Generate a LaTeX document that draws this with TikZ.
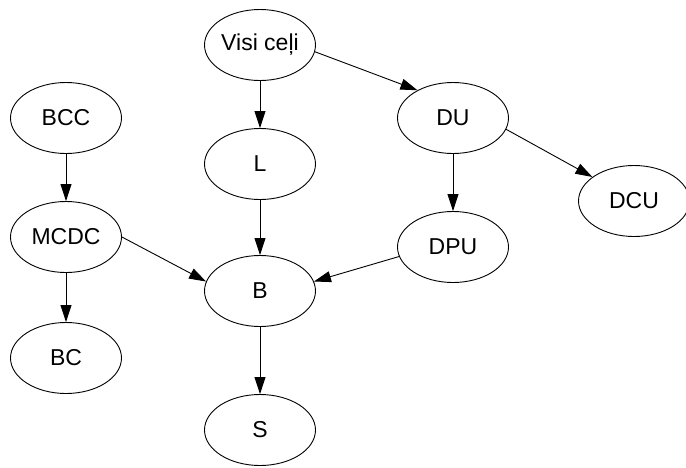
\documentclass[tikz,border=0pt]{standalone}
\usepackage{fontspec}
\setmainfont{Liberation Sans}
\usepackage{tikz}
\usetikzlibrary{shapes.geometric, arrows.meta}

\begin{document}
\begin{tikzpicture}[x=1pt, y=-1pt, line width=0.9pt,
    vertex/.style={ellipse, draw, minimum width=111pt, minimum height=71pt, inner sep=0pt,
        font=\fontsize{23}{27}\selectfont},
    >={Triangle[length=17pt, width=11pt]}]
            \useasboundingbox (0,0) rectangle (686,467);
            \node [vertex] (visi) at (260,45) {Visi ceļi};
            \node [vertex] (bcc) at (66,118) {BCC};
            \node [vertex] (l) at (260,164) {L};
            \node [vertex] (du) at (453,118) {DU};
            \node [vertex] (dcu) at (634,201) {DCU};
            \node [vertex] (mcdc) at (66,237) {MCDC};
            \node [vertex] (dpu) at (453,247) {DPU};
            \node [vertex] (b) at (260,291) {B};
            \node [vertex] (bc) at (66,358) {BC};
            \node [vertex] (s) at (260,430) {S};
            \path[->]
            	(visi) edge (l)
            	(visi.-7) edge (du.142)
            	(du) edge (dpu)
            	(du.-12) edge (dcu.150)
            	(bcc) edge (mcdc)
            	(mcdc) edge (bc)
            	(mcdc.east) edge (b.170)
            	(l) edge (b)
            	(dpu.190) edge (b.10)
            	(b) edge (s);
            \end{tikzpicture}
\end{document}
